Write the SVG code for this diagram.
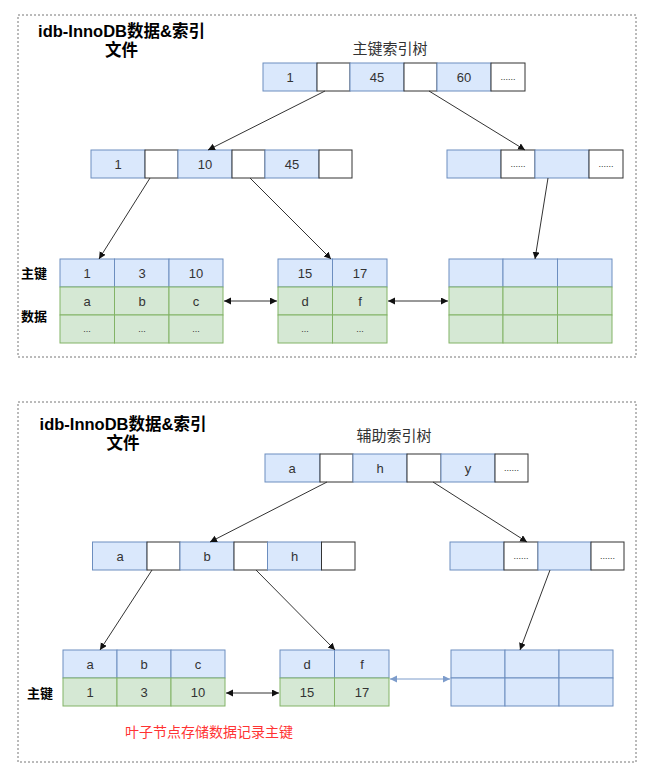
<svg xmlns="http://www.w3.org/2000/svg" width="650" height="772" viewBox="0 0 650 772">
<style>
.frame{fill:none;stroke:#777;stroke-width:1;stroke-dasharray:2 2}
.b{fill:#dae8fc;stroke:#6c8ebf;stroke-width:1}
.g{fill:#d5e8d4;stroke:#82b366;stroke-width:1}
.w{fill:#ffffff;stroke:#333333;stroke-width:1}
text{font-family:"Liberation Sans","Noto Sans CJK SC",sans-serif;fill:#333}
.t{font-size:13px;text-anchor:middle}
.d{font-size:9px;text-anchor:middle}
.title{font-size:16.5px;font-weight:bold;text-anchor:middle;fill:#000}
.cap{font-size:15px;text-anchor:middle;fill:#333}
.lbl{font-size:13px;font-weight:bold;fill:#000}
.red{font-size:14px;fill:#ff3333;text-anchor:middle}
.c{stroke:#333;stroke-width:1;fill:none}
.cb{stroke:#7d9ccb;stroke-width:1;fill:none}
</style>
<defs>
<marker id="ah" markerWidth="8" markerHeight="8" refX="7" refY="3.5" orient="auto" markerUnits="userSpaceOnUse">
<path d="M0,0 L7,3.5 L0,7 z" fill="#111"/>
</marker>
<marker id="ahs" markerWidth="8" markerHeight="8" refX="7" refY="3.5" orient="auto-start-reverse" markerUnits="userSpaceOnUse">
<path d="M0,0 L7,3.5 L0,7 z" fill="#111"/>
</marker>
<marker id="abs" markerWidth="8" markerHeight="8" refX="7" refY="3.5" orient="auto-start-reverse" markerUnits="userSpaceOnUse">
<path d="M0,0 L7,3.5 L0,7 z" fill="#7d9ccb"/>
</marker>
</defs>

<!-- ===== Top panel ===== -->
<g id="panel1">
<rect class="frame" x="18" y="15" width="618" height="342"/>
<text class="title" x="121.5" y="37">idb-InnoDB数据&amp;索引</text>
<text class="title" x="121.5" y="56">文件</text>
<text class="cap" x="390" y="54">主键索引树</text>
</g>

<g id="p1-root">
<rect class="b" x="263" y="63" width="54" height="28"/><text class="t" x="290" y="82">1</text>
<rect class="w" x="317" y="63" width="33" height="28"/>
<rect class="b" x="350" y="63" width="54" height="28"/><text class="t" x="377" y="82">45</text>
<rect class="w" x="404" y="63" width="33" height="28"/>
<rect class="b" x="437" y="63" width="54" height="28"/><text class="t" x="464" y="82">60</text>
<rect class="w" x="491" y="63" width="34" height="28"/><text class="d" x="508" y="80">......</text>
</g>

<g id="p1-mid-left">
<rect class="b" x="91" y="150" width="54" height="28"/><text class="t" x="118" y="169">1</text>
<rect class="w" x="145" y="150" width="33" height="28"/>
<rect class="b" x="178" y="150" width="54" height="28"/><text class="t" x="205" y="169">10</text>
<rect class="w" x="232" y="150" width="33" height="28"/>
<rect class="b" x="265" y="150" width="54" height="28"/><text class="t" x="292" y="169">45</text>
<rect class="w" x="319" y="150" width="33" height="28"/>
</g>

<g id="p1-mid-right">
<rect class="b" x="447" y="150" width="54" height="28"/>
<rect class="w" x="501" y="150" width="34" height="28"/><text class="d" x="518" y="167">......</text>
<rect class="b" x="535" y="150" width="54" height="28"/>
<rect class="w" x="589" y="150" width="34" height="28"/><text class="d" x="606" y="167">......</text>
</g>

<g id="p1-labels">
<text class="lbl" x="21" y="278">主键</text>
<text class="lbl" x="21" y="321">数据</text>
</g>

<g id="p1-leaf1">
<rect class="b" x="60" y="259" width="54.5" height="28"/><text class="t" x="87" y="278">1</text>
<rect class="b" x="114.5" y="259" width="54.5" height="28"/><text class="t" x="142" y="278">3</text>
<rect class="b" x="169" y="259" width="54" height="28"/><text class="t" x="196" y="278">10</text>
<rect class="g" x="60" y="287" width="54.5" height="28"/><text class="t" x="87" y="306">a</text>
<rect class="g" x="114.5" y="287" width="54.5" height="28"/><text class="t" x="142" y="306">b</text>
<rect class="g" x="169" y="287" width="54" height="28"/><text class="t" x="196" y="306">c</text>
<rect class="g" x="60" y="315" width="54.5" height="28"/><text class="d" x="87" y="332">...</text>
<rect class="g" x="114.5" y="315" width="54.5" height="28"/><text class="d" x="142" y="332">...</text>
<rect class="g" x="169" y="315" width="54" height="28"/><text class="d" x="196" y="332">...</text>
</g>

<g id="p1-leaf2">
<rect class="b" x="278" y="259" width="54.5" height="28"/><text class="t" x="305" y="278">15</text>
<rect class="b" x="332.5" y="259" width="54.5" height="28"/><text class="t" x="360" y="278">17</text>
<rect class="g" x="278" y="287" width="54.5" height="28"/><text class="t" x="305" y="306">d</text>
<rect class="g" x="332.5" y="287" width="54.5" height="28"/><text class="t" x="360" y="306">f</text>
<rect class="g" x="278" y="315" width="54.5" height="28"/><text class="d" x="305" y="332">...</text>
<rect class="g" x="332.5" y="315" width="54.5" height="28"/><text class="d" x="360" y="332">...</text>
</g>

<g id="p1-leaf3">
<rect class="b" x="449" y="259" width="54" height="28"/>
<rect class="b" x="503" y="259" width="54.5" height="28"/>
<rect class="b" x="557.5" y="259" width="54.5" height="28"/>
<rect class="g" x="449" y="287" width="54" height="28"/>
<rect class="g" x="503" y="287" width="54.5" height="28"/>
<rect class="g" x="557.5" y="287" width="54.5" height="28"/>
<rect class="g" x="449" y="315" width="54" height="28"/>
<rect class="g" x="503" y="315" width="54.5" height="28"/>
<rect class="g" x="557.5" y="315" width="54.5" height="28"/>
</g>

<!-- ===== Bottom panel ===== -->
<g id="panel2">
<rect class="frame" x="18" y="402" width="618" height="360"/>
<text class="title" x="123" y="430">idb-InnoDB数据&amp;索引</text>
<text class="title" x="123" y="449">文件</text>
<text class="cap" x="394" y="441">辅助索引树</text>
<text class="red" x="209" y="737">叶子节点存储数据记录主键</text>
</g>

<g id="p2-root">
<rect class="b" x="265" y="454" width="55" height="28"/><text class="t" x="292" y="473">a</text>
<rect class="w" x="320" y="454" width="33" height="28"/>
<rect class="b" x="353" y="454" width="54" height="28"/><text class="t" x="380" y="473">h</text>
<rect class="w" x="407" y="454" width="34" height="28"/>
<rect class="b" x="441" y="454" width="54" height="28"/><text class="t" x="468" y="473">y</text>
<rect class="w" x="495" y="454" width="33" height="28"/><text class="d" x="511.5" y="471">......</text>
</g>

<g id="p2-mid-left">
<rect class="b" x="92.5" y="542" width="54.5" height="28"/><text class="t" x="120" y="561">a</text>
<rect class="w" x="147" y="542" width="33" height="28"/>
<rect class="b" x="180" y="542" width="54" height="28"/><text class="t" x="207" y="561">b</text>
<rect class="w" x="234" y="542" width="33.5" height="28"/>
<rect class="b" x="267.5" y="542" width="54" height="28"/><text class="t" x="294.5" y="561">h</text>
<rect class="w" x="321.5" y="542" width="33.5" height="28"/>
</g>

<g id="p2-mid-right">
<rect class="b" x="450" y="542" width="54" height="28"/>
<rect class="w" x="504" y="542" width="34" height="28"/><text class="d" x="521" y="559">......</text>
<rect class="b" x="538" y="542" width="53" height="28"/>
<rect class="w" x="591" y="542" width="33" height="28"/><text class="d" x="607.5" y="559">......</text>
</g>

<g id="p2-labels">
<text class="lbl" x="27" y="698">主键</text>
</g>

<g id="p2-leaf1">
<rect class="b" x="63" y="650" width="54" height="28"/><text class="t" x="90" y="669">a</text>
<rect class="b" x="117" y="650" width="54" height="28"/><text class="t" x="144" y="669">b</text>
<rect class="b" x="171" y="650" width="54" height="28"/><text class="t" x="198" y="669">c</text>
<rect class="g" x="63" y="678" width="54" height="28"/><text class="t" x="90" y="697">1</text>
<rect class="g" x="117" y="678" width="54" height="28"/><text class="t" x="144" y="697">3</text>
<rect class="g" x="171" y="678" width="54" height="28"/><text class="t" x="198" y="697">10</text>
</g>

<g id="p2-leaf2">
<rect class="b" x="280" y="650" width="54.5" height="28"/><text class="t" x="307" y="669">d</text>
<rect class="b" x="334.5" y="650" width="54.5" height="28"/><text class="t" x="362" y="669">f</text>
<rect class="g" x="280" y="678" width="54.5" height="28"/><text class="t" x="307" y="697">15</text>
<rect class="g" x="334.5" y="678" width="54.5" height="28"/><text class="t" x="362" y="697">17</text>
</g>

<g id="p2-leaf3">
<rect class="b" x="451" y="650" width="54" height="28"/>
<rect class="b" x="505" y="650" width="54" height="28"/>
<rect class="b" x="559" y="650" width="54" height="28"/>
<rect class="b" x="451" y="678" width="54" height="28"/>
<rect class="b" x="505" y="678" width="54" height="28"/>
<rect class="b" x="559" y="678" width="54" height="28"/>
</g>

<!-- ===== Connectors ===== -->
<g id="connectors">
<line class="c" x1="325" y1="91" x2="208" y2="150" marker-end="url(#ah)"/>
<line class="c" x1="429" y1="91" x2="525" y2="150" marker-end="url(#ah)"/>
<line class="c" x1="150" y1="178" x2="99" y2="259" marker-end="url(#ah)"/>
<line class="c" x1="250" y1="178" x2="331" y2="259" marker-end="url(#ah)"/>
<line class="c" x1="548" y1="178" x2="535" y2="259" marker-end="url(#ah)"/>
<line class="c" x1="224" y1="301" x2="277" y2="301" marker-start="url(#ahs)" marker-end="url(#ahs)"/>
<line class="c" x1="388" y1="301" x2="448" y2="301" marker-start="url(#ahs)" marker-end="url(#ahs)"/>

<line class="c" x1="327" y1="482" x2="210" y2="542" marker-end="url(#ah)"/>
<line class="c" x1="433" y1="482" x2="527" y2="542" marker-end="url(#ah)"/>
<line class="c" x1="152" y1="570" x2="100" y2="650" marker-end="url(#ah)"/>
<line class="c" x1="256" y1="570" x2="335" y2="650" marker-end="url(#ah)"/>
<line class="c" x1="550" y1="570" x2="520" y2="650" marker-end="url(#ah)"/>
<line class="c" x1="226" y1="693" x2="279" y2="693" marker-start="url(#ahs)" marker-end="url(#ahs)"/>
<line class="cb" x1="390" y1="679" x2="450" y2="679" marker-start="url(#abs)" marker-end="url(#abs)"/>
</g>
</svg>
